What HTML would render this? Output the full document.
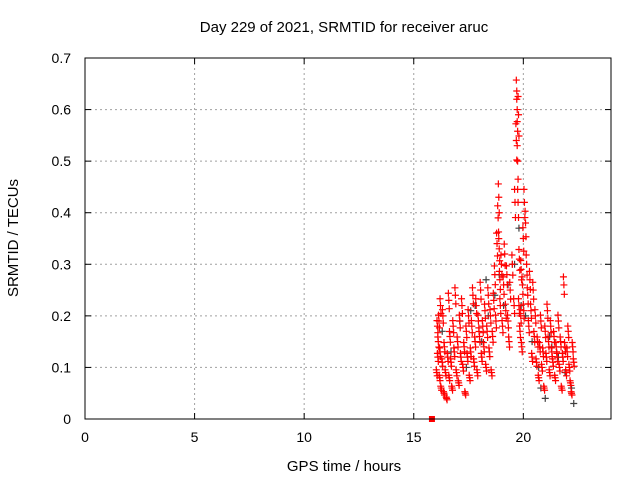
<!DOCTYPE html>
<html><head><meta charset="utf-8"><style>
body{margin:0;background:#fff}
svg text{font-family:"Liberation Sans",sans-serif;font-size:14px;fill:#000}
svg text.big{font-size:15px}
</style></head><body>
<svg id="c" width="640" height="480">
<rect width="640" height="480" fill="#fff"/>
<text class="big" x="344" y="32" text-anchor="middle">Day 229 of 2021, SRMTID for receiver aruc</text>
<text class="big" x="344" y="471" text-anchor="middle">GPS time / hours</text>
<text class="big" transform="translate(18,238) rotate(-90)" text-anchor="middle">SRMTID / TECUs</text>
<g id="grid"></g><g id="ticks"></g><g id="pts"></g>
<rect x="85" y="58" width="526" height="361" fill="none" stroke="#000"/>
</svg>
<script>
const xTicks=[0,5,10,15,20];
const yTicks=[0,0.1,0.2,0.3,0.4,0.5,0.6,0.7];
const yTickLabels=["0","0.1","0.2","0.3","0.4","0.5","0.6","0.7"];
const redT=[16.05,16.08,16.1,16.12,16.15,16.18,16.2,16.22,16.25,16.3,16.33,16.38,16.4,16.45,16.5,16.55,16.6,16.62,16.65,16.7,16.75,16.8,16.85,16.9,16.95,17.0,17.05,17.1,17.15,17.2,17.25,17.3,17.35,17.4,17.45,17.5,17.55,17.6,17.65,17.7,17.75,17.8,17.85,17.9,17.95,18.0,18.05,18.1,18.15,18.2,18.25,18.3,18.35,18.4,18.45,18.5,18.55,18.6,18.65,18.7,18.75,18.8,18.85,18.88,18.9,18.93,18.95,19.0,19.05,19.1,19.15,19.2,19.25,19.3,19.35,19.4,19.5,19.58,19.62,19.68,19.7,19.72,19.74,19.76,19.78,19.8,19.82,19.85,19.88,19.9,19.93,19.96,20.0,20.02,20.05,20.1,20.15,20.2,20.25,20.3,20.35,20.4,20.45,20.5,20.55,20.6,20.65,20.7,20.75,20.8,20.85,20.9,20.95,21.0,21.05,21.1,21.15,21.2,21.25,21.3,21.35,21.4,21.45,21.5,21.55,21.6,21.65,21.7,21.75,21.8,21.85,21.9,21.95,22.0,22.05,22.1,22.15,22.2,22.25,22.3];
const redV=[0.09,0.18,0.12,0.15,0.19,0.08,0.13,0.22,0.06,0.11,0.2,0.05,0.14,0.09,0.04,0.12,0.23,0.08,0.16,0.11,0.06,0.18,0.13,0.24,0.09,0.15,0.07,0.19,0.12,0.22,0.1,0.14,0.05,0.17,0.12,0.2,0.08,0.13,0.18,0.24,0.11,0.15,0.22,0.09,0.19,0.16,0.25,0.12,0.18,0.14,0.21,0.1,0.17,0.24,0.13,0.2,0.09,0.16,0.23,0.28,0.19,0.34,0.39,0.43,0.33,0.27,0.22,0.3,0.18,0.26,0.32,0.21,0.28,0.19,0.15,0.25,0.3,0.22,0.42,0.54,0.62,0.6,0.5,0.42,0.59,0.22,0.31,0.17,0.2,0.29,0.14,0.26,0.35,0.21,0.42,0.38,0.3,0.24,0.18,0.27,0.21,0.12,0.25,0.16,0.2,0.11,0.15,0.08,0.14,0.19,0.1,0.13,0.06,0.17,0.12,0.21,0.15,0.09,0.18,0.13,0.11,0.16,0.08,0.14,0.12,0.19,0.1,0.15,0.06,0.12,0.26,0.14,0.09,0.13,0.17,0.1,0.07,0.05,0.14,0.11,0.08,0.06,0.09,0.07];
const blackT=[16.3,16.7,17.1,17.4,17.8,18.1,18.4,18.7,18.9,19.1,19.3,19.5,19.8,19.9,20.1,20.4,20.7,21.0,21.3,21.6,21.9,22.2,17.6,18.3,19.6,20.8,21.2,22.3];
const blackV=[0.17,0.13,0.19,0.1,0.22,0.15,0.2,0.24,0.28,0.22,0.26,0.3,0.37,0.22,0.2,0.15,0.1,0.04,0.14,0.12,0.09,0.06,0.21,0.27,0.3,0.06,0.16,0.03];
const X0=85,X1=611,Y0=419,Y1=58;
const sx=v=>X0+(v-0)/24*(X1-X0), sy=v=>Y0-(v/0.7)*(Y0-Y1);
const NS="http://www.w3.org/2000/svg";
function mk(tag,attrs,parent){const e=document.createElementNS(NS,tag);for(const k in attrs)e.setAttribute(k,attrs[k]);parent.appendChild(e);return e;}
const grid=document.getElementById('grid'),ticks=document.getElementById('ticks'),pts=document.getElementById('pts');
xTicks.forEach(t=>{const x=sx(t);
 if(t>0){const g=mk('line',{x1:x,x2:x,y1:Y1,y2:Y0,stroke:'#a0a0a0','stroke-dasharray':'2,3'},grid);
 
 }
 mk('line',{x1:x,x2:x,y1:Y0,y2:Y0-6,stroke:'#000'},ticks);mk('line',{x1:x,x2:x,y1:Y1,y2:Y1+6,stroke:'#000'},ticks);
 const tx=mk('text',{x:x,y:Y0+23,'text-anchor':'middle'},ticks);tx.textContent=t;
 
 });
yTicks.forEach((t,i)=>{const y=sy(t);
 if(i>0&&i<yTicks.length-1){const g=mk('line',{x1:X0,x2:X1,y1:y,y2:y,stroke:'#a0a0a0','stroke-dasharray':'2,3'},grid);
 
 }
 mk('line',{x1:X0,x2:X0+6,y1:y,y2:y,stroke:'#000'},ticks);mk('line',{x1:X1,x2:X1-6,y1:y,y2:y,stroke:'#000'},ticks);
 const tx=mk('text',{x:X0-14,y:y+5,'text-anchor':'end'},ticks);tx.textContent=yTickLabels[i];
 
 });
function plus(t,v,col,name){const x=sx(t),y=sy(v);
 const p=mk('path',{d:`M${x-3.5},${y}h7M${x},${y-3.5}v7`,stroke:col,'stroke-width':1.2,fill:'none'},pts);
 
 }
blackT.forEach((t,i)=>plus(t,blackV[i],'#404040','black-point'));
redT.forEach((t,i)=>{plus(t,redV[i],'#ff0000','red-point');plus(t+0.02,redV[i]*0.93,'#ff0000','red-point');plus(t-0.02,redV[i]*1.06,'#ff0000','red-point');});
const sq=mk('rect',{x:sx(15.83)-3,y:sy(0)-3,width:6,height:6,fill:'#ff0000'},pts);


</script>
</body></html>
